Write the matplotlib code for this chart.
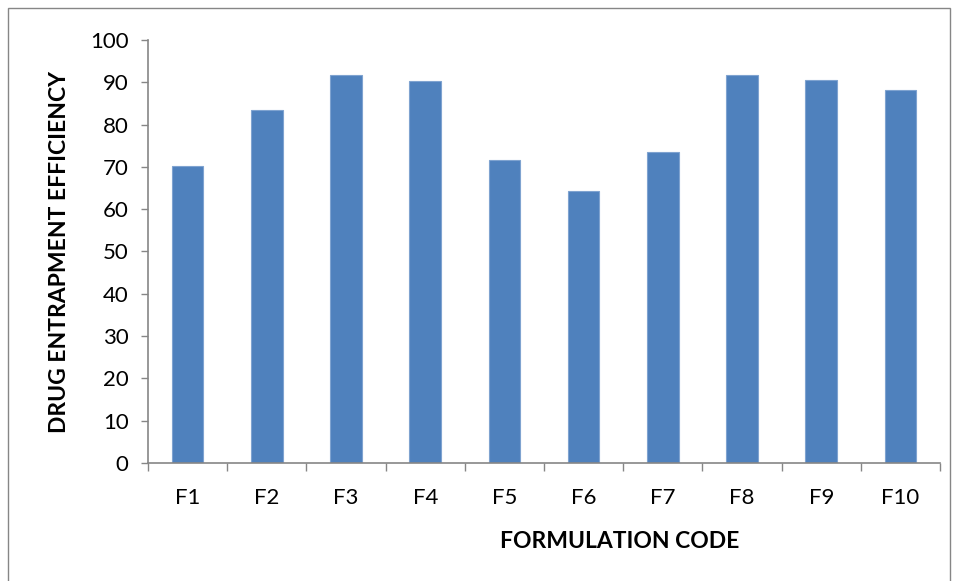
import matplotlib
matplotlib.use("Agg")
import matplotlib.pyplot as plt
from matplotlib.patches import Rectangle

# drug entrapment efficiency per formulation
codes = ["F1", "F2", "F3", "F4", "F5", "F6", "F7", "F8", "F9", "F10"]
efficiency = [70.1, 83.5, 91.8, 90.4, 71.7, 64.4, 73.5, 91.8, 90.6, 88.2]

plt.rcParams['font.family'] = ['Lato', 'DejaVu Sans']

fig = plt.figure(figsize=(9.56, 5.81), dpi=100)
ax = fig.add_axes([148/956, 1 - 463/581, (940-148)/956, (463-40)/581])

x = range(len(codes))
ax.bar(x, efficiency, width=0.4, color='#4F81BD', edgecolor='#7FA3D0', linewidth=0.8)

ax.set_xlim(-0.5, len(codes) - 0.5)
ax.set_ylim(0, 100)
ax.set_yticks(range(0, 101, 10))
ax.tick_params(axis='y', labelsize=16, length=5, width=1, color='#868686', pad=9)

# category labels centred, tick marks on the boundaries
ax.set_xticks(list(x))
ax.set_xticklabels(codes, fontsize=16)
ax.tick_params(axis='x', length=0, pad=18)
ax.set_xticks([i - 0.5 for i in range(len(codes) + 1)], minor=True)
ax.tick_params(axis='x', which='minor', length=6, width=1, color='#868686')

for s in ['top', 'right']:
    ax.spines[s].set_visible(False)
for s in ['left', 'bottom']:
    ax.spines[s].set_color('#868686')
    ax.spines[s].set_linewidth(1.2)

fig.text(60/956, 1 - 252/581, 'DRUG ENTRAPMENT EFFICIENCY', rotation=90,
         ha='center', va='center', fontsize=16.5, fontweight='bold')
fig.text(620/956, 1 - 541/581, 'FORMULATION CODE',
         ha='center', va='center', fontsize=16.5, fontweight='bold')

# outer chart border
fig.patches.append(Rectangle((8/956, -0.02), (950-8)/956, 1 - 8/581 + 0.02,
                             transform=fig.transFigure, fill=False,
                             edgecolor='#868686', linewidth=1))

fig.savefig('out.png', dpi=100)
